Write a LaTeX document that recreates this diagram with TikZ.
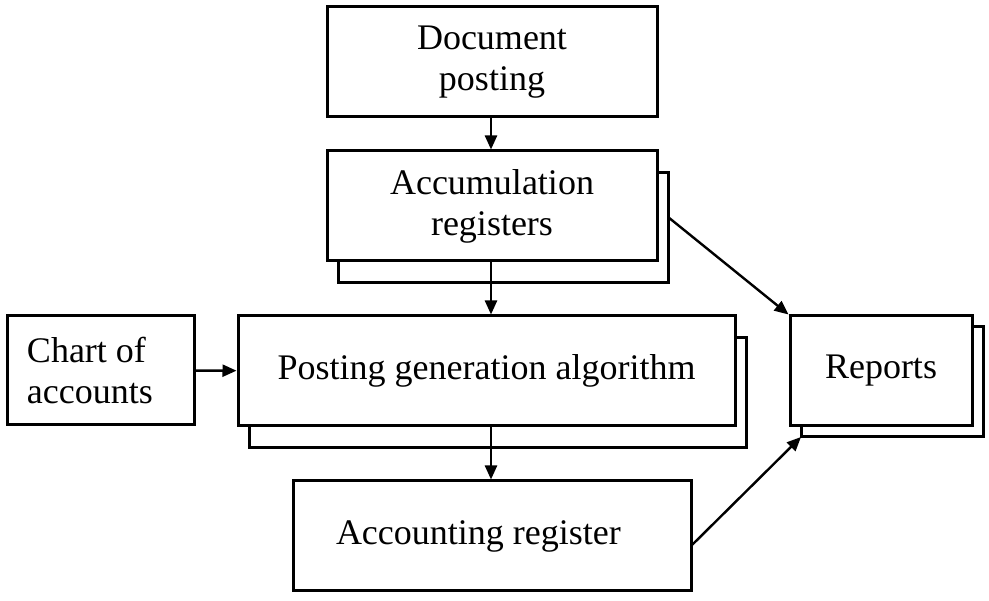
\documentclass[tikz,border=0pt]{standalone}
\usepackage{fontspec}
\setmainfont{Liberation Serif}
\usetikzlibrary{arrows.meta,shadows}

\tikzset{
  blk/.style={draw, line width=3pt, fill=white, inner sep=0pt, align=center,
    font=\fontsize{36}{41}\selectfont},
  blkshadow/.style={copy shadow={shadow xshift=#1, shadow yshift=-22pt}},
  con/.style={line width=2.4pt, -{Triangle[length=14pt,width=12pt]}}
}

\begin{document}
\begin{tikzpicture}[x=1pt, y=-1pt]
            \useasboundingbox (0,0) rectangle (989,601);
            \node[blk, minimum width=330pt, minimum height=110pt] (doc) at (492,62) {Document\\posting};
            \node[blk, blkshadow=11pt, minimum width=330pt, minimum height=110pt] (accum) at (492,206) {Accumulation\\registers};
            \node[blk, blkshadow=11pt, minimum width=497pt, minimum height=110pt] (post) at (486.5,371) {Posting generation algorithm};
            \node[blk, minimum width=187pt, minimum height=109pt, text width=147pt, align=flush left, inner xsep=20pt] (chart) at (100.5,370.5) {Chart of\\accounts};
            \node[blk, minimum width=398pt, minimum height=110pt, text width=312pt, align=flush left, inner xsep=43pt] (acct) at (492,536) {Accounting register};
            \node[blk, copy shadow={shadow xshift=11pt, shadow yshift=-11pt}, minimum width=182pt, minimum height=110pt] (rep) at (881,371) {Reports};
            \coordinate (accsh) at (668,217);
            \coordinate (repsh) at (801,437);
            \coordinate (acctout) at (691,546);
            \coordinate (mid) at (491,0);
            \draw[con] (mid |- doc.south) -- (mid |- accum.north);
            \draw[con] (mid |- accum.south) -- (mid |- post.north);
            \draw[con] (mid |- post.south) -- (mid |- acct.north);
            \draw[con] (chart) -- (post);
            \draw[con] (accsh) -- (rep.north west);
            \draw[con] (acctout) -- (repsh);
        \end{tikzpicture}
\end{document}
